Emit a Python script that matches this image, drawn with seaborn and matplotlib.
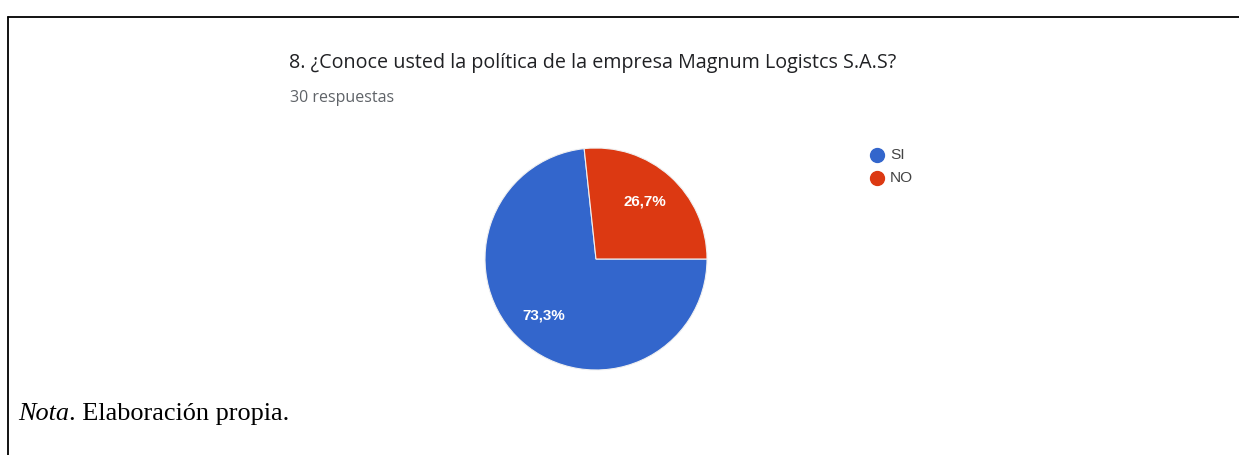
import matplotlib
matplotlib.use("Agg")
import matplotlib.pyplot as plt
from matplotlib.lines import Line2D
import seaborn as sns

categories = ["SI", "NO"]
values = [73.3, 26.7]
value_labels = ["73,3%", "26,7%"]
colors = ["#3366CC", "#DC3912"]
title = "8. ¿Conoce usted la política de la empresa Magnum Logistcs S.A.S?"
subtitle = "30 respuestas"
note_italic = "Nota"
note_rest = ". Elaboración propia."

sns.set_theme(style="white")
plt.rcParams['font.family'] = ['Open Sans', 'DejaVu Sans']

W, H = 1239, 455
fig = plt.figure(figsize=(W / 100, H / 100), dpi=100)
fig.patch.set_facecolor("white")
renderer = fig.canvas.get_renderer()


def fx(px):
    return px / W


def fy(py):
    return 1 - py / H


def fit_text(px, py, s, target_w, **kw):
    t = fig.text(fx(px), fy(py), s, **kw)
    w = t.get_window_extent(renderer=renderer).width
    t.set_fontsize(t.get_fontsize() * target_w / w)
    return t


# frame lines
fig.add_artist(Line2D([fx(7.5), 1.0], [fy(16.5), fy(16.5)], color="black", lw=1.3))
fig.add_artist(Line2D([fx(7.5), fx(7.5)], [fy(16.5), 0.0], color="black", lw=1.3))

# pie
cx, cy, r = 596, 259, 111
ax = fig.add_axes([fx(cx - r), fy(cy + r), (2 * r) / W, (2 * r) / H])
wedges, _ = ax.pie(values, colors=colors, startangle=0, counterclock=False,
                   radius=1, wedgeprops=dict(edgecolor="#f0f0f0", linewidth=0.8))
ax.set_xlim(-1, 1)
ax.set_ylim(-1, 1)
ax.set_aspect("equal")
ax.axis("off")

# value labels
label_pos = [(544, 316), (645, 201)]
for (px, py), lab in zip(label_pos, value_labels):
    t = fit_text(px, py, lab, 43, color="white", fontsize=10, fontweight="semibold",
                 ha="center", va="center", family=['Liberation Sans', 'DejaVu Sans'])

# title and subtitle
fit_text(289, 63, title, 607, fontsize=12, color="#202124", ha="left", va="center")
fit_text(290, 98, subtitle, 105, fontsize=9, color="#5f6368", ha="left", va="center")

# legend
leg_y = [155, 178]
for c, lab, y in zip(colors, categories, leg_y):
    fig.add_artist(Line2D([fx(877)], [fy(y)], marker="o", markersize=10,
                          markerfacecolor=c, markeredgecolor=c, linestyle="none"))
fs_leg = None
for lab, y in zip(categories, leg_y):
    if lab == "NO":
        t = fit_text(890, y, lab, 23, fontsize=10, color="#444444", ha="left", va="center",
                     family=['Liberation Sans', 'DejaVu Sans'])
        fs_leg = t.get_fontsize()
for lab, y in zip(categories, leg_y):
    if lab != "NO":
        fig.text(fx(890), fy(y), lab, fontsize=fs_leg, color="#444444", ha="left",
                 va="center", family=['Liberation Sans', 'DejaVu Sans'])

# note
t1 = fig.text(fx(18), fy(414), note_italic, fontsize=13, style="italic", color="black",
              ha="left", va="center", family=['Liberation Serif'])
t2 = fig.text(fx(60), fy(414), note_rest, fontsize=13, color="black",
              ha="left", va="center", family=['Liberation Serif'])
w_total = t1.get_window_extent(renderer=renderer).width + t2.get_window_extent(renderer=renderer).width
fs = 13 * (287 - 18) / w_total
t1.set_fontsize(fs)
t2.set_fontsize(fs)
bb = t1.get_window_extent(renderer=renderer)
t2.set_x(bb.x1 / W)

fig.savefig("out.png", dpi=100, facecolor="white")
